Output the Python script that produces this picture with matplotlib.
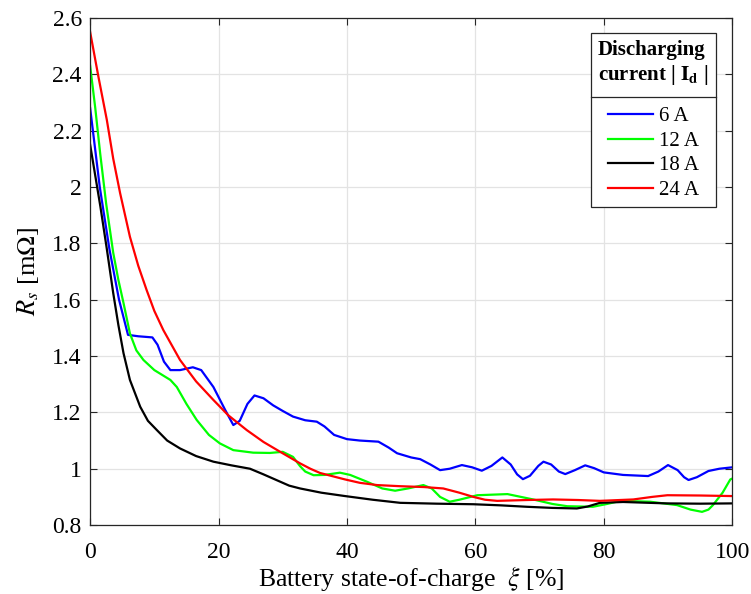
import numpy as np
import matplotlib
matplotlib.use('Agg')
import matplotlib.pyplot as plt
from matplotlib.lines import Line2D

plt.rcParams['font.family'] = ['Liberation Serif', 'DejaVu Serif']
plt.rcParams['mathtext.fontset'] = 'stix'

# 6 A
soc_6 = [0, 1.5, 3, 4.5, 5.9, 7.5, 9.7, 10.5, 11.5, 12.5, 14, 16, 17.3, 19.2, 21, 22.3,
         23.3, 24.5, 25.6, 27, 28.5, 30, 31.6, 33.5, 35.3, 36.5, 38, 40, 42, 44.9, 46.5,
         47.8, 50, 51.4, 53, 54.5, 56, 57.9, 59.5, 61, 62.5, 64.2, 65.5, 66.5, 67.4, 68.5,
         69.8, 70.6, 71.8, 73, 74, 75.5, 77.1, 78.5, 80, 83, 86.9, 88.5, 90, 91.5, 92.5,
         93.2, 94.5, 96.3, 98, 100]
rs_6 = [2.28, 2.0, 1.78, 1.6, 1.475, 1.47, 1.466, 1.44, 1.38, 1.35, 1.35, 1.36, 1.35, 1.29,
        1.21, 1.155, 1.17, 1.23, 1.26, 1.25, 1.225, 1.205, 1.185, 1.172, 1.167, 1.15, 1.12,
        1.105, 1.10, 1.096, 1.075, 1.055, 1.04, 1.034, 1.015, 0.995, 1.0, 1.013, 1.005, 0.993,
        1.01, 1.04, 1.015, 0.98, 0.963, 0.975, 1.01, 1.025, 1.015, 0.99, 0.981, 0.995, 1.012,
        1.002, 0.987, 0.978, 0.974, 0.99, 1.013, 0.995, 0.97, 0.960, 0.97, 0.992, 1.0, 1.005]

# 12 A
soc_12 = [0, 0.8, 1.56, 2.5, 3.6, 4.4, 5.2, 6.2, 7.2, 8.3, 10, 12.5, 13.5, 15, 16.6, 18.5,
          20.2, 22.3, 25.4, 28, 30, 31.6, 32.7, 33.5, 34.8, 36.5, 38.9, 40.5, 43.1, 45.5,
          47.5, 49.5, 51.9, 53.2, 54.5, 56, 57.5, 60.3, 65, 69, 72, 74.3, 78.3, 80.5, 82.6,
          87.2, 91.4, 93.5, 95.3, 96.3, 97, 98.5, 99.7, 100]
rs_12 = [2.43, 2.28, 2.12, 1.94, 1.766, 1.67, 1.588, 1.48, 1.42, 1.386, 1.35, 1.315, 1.29,
         1.23, 1.173, 1.12, 1.09, 1.066, 1.057, 1.056, 1.06, 1.042, 1.009, 0.99, 0.977, 0.978,
         0.986, 0.978, 0.954, 0.93, 0.922, 0.93, 0.942, 0.93, 0.9, 0.883, 0.89, 0.906, 0.910,
         0.891, 0.875, 0.867, 0.865, 0.875, 0.886, 0.883, 0.871, 0.855, 0.847, 0.855, 0.871,
         0.915, 0.962, 0.965]

# 18 A
soc_18 = [0, 0.8, 1.6, 2.6, 3.6, 4.4, 5.2, 6.2, 7.8, 9, 10.4, 12, 14, 16.5, 19.2, 22, 24.9,
          27, 29, 31, 32.7, 36, 39.7, 44, 48.3, 54, 59.7, 64, 68, 72, 75.8, 77.5, 79.4, 83,
          89.8, 95, 100]
rs_18 = [2.15, 2.04, 1.93, 1.78, 1.623, 1.51, 1.41, 1.315, 1.22, 1.17, 1.137, 1.1, 1.072,
         1.045, 1.025, 1.012, 1.0, 0.98, 0.96, 0.94, 0.93, 0.915, 0.903, 0.89, 0.879, 0.876,
         0.874, 0.87, 0.865, 0.861, 0.859, 0.866, 0.879, 0.882, 0.877, 0.876, 0.877]

# 24 A
soc_24 = [0, 1.3, 2.6, 3.6, 4.67, 6.2, 7.5, 8.8, 10, 11.4, 14, 16.5, 19.2, 21.5, 24.4, 27,
          29.6, 32.7, 34.3, 35.8, 39.7, 42, 44.7, 48.3, 52, 55, 57.5, 59.7, 61.5, 63.4, 68,
          72.1, 76, 79.4, 84.6, 87.5, 89.9, 95, 100]
rs_24 = [2.55, 2.39, 2.238, 2.1, 1.978, 1.823, 1.72, 1.634, 1.56, 1.492, 1.386, 1.31, 1.244,
         1.19, 1.137, 1.095, 1.06, 1.019, 1.0, 0.985, 0.962, 0.95, 0.942, 0.938, 0.935, 0.930,
         0.915, 0.900, 0.89, 0.886, 0.889, 0.891, 0.889, 0.886, 0.891, 0.9, 0.906, 0.905, 0.903]

labels = ['6 A', '12 A', '18 A', '24 A']
colors = ['#0000ff', '#00ff00', '#000000', '#ff0000']

xticks = [0, 20, 40, 60, 80, 100]
yticks = [0.8, 1.0, 1.2, 1.4, 1.6, 1.8, 2.0, 2.2, 2.4, 2.6]
ytick_labels = ['0.8', '1', '1.2', '1.4', '1.6', '1.8', '2', '2.2', '2.4', '2.6']

fig = plt.figure(figsize=(7.51, 5.94), dpi=100)
ax = fig.add_axes([0.12, 0.116, 0.855, 0.854])

series = [(soc_6, rs_6), (soc_12, rs_12), (soc_18, rs_18), (soc_24, rs_24)]
for (x, y), lab, c in zip(series, labels, colors):
    ax.plot(x, y, color=c, lw=1.6, label=lab)

ax.set_xlim(0, 100)
ax.set_ylim(0.8, 2.6)
ax.set_xticks(xticks)
ax.set_yticks(yticks)
ax.set_yticklabels(ytick_labels)
ax.tick_params(direction='in', labelsize=17, length=5, color='#262626',
               top=True, right=True)
ax.tick_params(axis='x', pad=12)
ax.tick_params(axis='y', pad=6)
ax.grid(True, color='#e3e3e3', lw=0.9)
ax.set_axisbelow(True)
for s in ax.spines.values():
    s.set_color('#262626')
    s.set_linewidth(0.9)

ax.set_xlabel(r'Battery state-of-charge  $\xi$ [%]', fontsize=18.5, labelpad=1)
ax.set_ylabel(r'$R_s$ [m$\Omega$]', fontsize=19, labelpad=8)

leg = ax.legend(loc='upper right', bbox_to_anchor=(0.974, 0.971), borderaxespad=0,
                title='Discharging\ncurrent | $\\mathbf{I_d}$ |',
                title_fontproperties={'weight': 'bold', 'size': 15},
                fontsize=15, handlelength=2.2, handletextpad=0.25, labelspacing=0.24,
                fancybox=False, edgecolor='#262626', framealpha=1, borderpad=0.35)
leg.get_frame().set_linewidth(0.9)
# wider gap between the title block and the entries
leg._legend_box.sep = 14

# separator line under the legend title
fig.canvas.draw()
r = fig.canvas.get_renderer()
fb = leg.get_frame().get_window_extent(r)
tb = leg.get_title().get_window_extent(r)
eb = leg.get_texts()[0].get_window_extent(r)
ysep = (tb.y0 + eb.y1) / 2
inv = fig.transFigure.inverted()
x0, y0 = inv.transform((fb.x0, ysep))
x1, _ = inv.transform((fb.x1, ysep))
fig.add_artist(Line2D([x0, x1], [y0, y0], color='#262626', lw=0.9))

fig.savefig('out.png', dpi=100)
